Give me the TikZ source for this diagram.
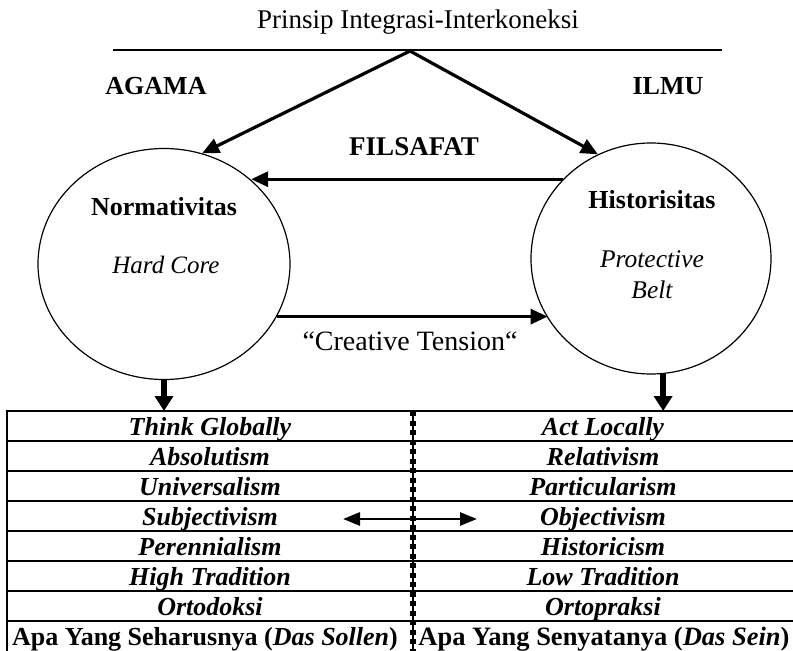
\documentclass[tikz,border=0pt]{standalone}
\usepackage{fontspec}
\setmainfont{Liberation Serif}
\usetikzlibrary{arrows.meta,shapes.geometric}
\begin{document}
\begin{tikzpicture}[x=1pt,y=-1pt,
  every node/.style={font=\fontsize{25}{30}\selectfont, inner sep=0pt, anchor=base},
  circ/.style={draw, ellipse, line width=1.2pt, anchor=center},
  link/.style={line width=3.2pt, -{Triangle[length=17pt,width=15pt]}},
  drop/.style={line width=6pt, -{Triangle[length=15pt,width=18pt]}},
  head/.style={font=\fontsize{26}{30}\selectfont\bfseries},
  cell/.style={font=\fontsize{26}{30}\selectfont\bfseries\itshape},
  last/.style={font=\fontsize{26}{30}\selectfont\bfseries},
  rule/.style={line width=2pt}]
\useasboundingbox (0,0) rectangle (793,651);

% title and top bar
\node[font=\fontsize{27}{30}\selectfont] (title) at (418,28) {Prinsip Integrasi-Interkoneksi};
\coordinate (barL) at (113,50);
\coordinate (barR) at (722,50);
\coordinate (apex) at (410,51);
\draw[line width=2pt] (barL) -- (barR);

% headings
\node[head] (agama) at (156,94) {AGAMA};
\node[head] (ilmu) at (668,94) {ILMU};
\node[font=\fontsize{27}{30}\selectfont\bfseries] (fil) at (414,155) {FILSAFAT};

% the two circles
\node[circ, minimum width=252pt, minimum height=231pt] (norm) at (164,264) {};
\node[circ, minimum width=240pt, minimum height=231pt] (hist) at (651,258.5) {};

\node[head] (normT) at (164,215) {Normativitas};
\node[font=\fontsize{25}{30}\selectfont\itshape] (hc) at (166,273) {Hard Core};
\node[head] (histT) at (652,208) {Historisitas};
\node[font=\fontsize{25.5}{30}\selectfont\itshape] (pb1) at (652,267) {Protective};
\node[font=\fontsize{25.5}{30}\selectfont\itshape] (pb2) at (652,298) {Belt};
\node[font=\fontsize{28}{30}\selectfont] (ct) at (410,350) {“Creative Tension“};

% connectors between the circles
\draw[link] (apex) -- (norm.71);
\draw[link] (apex) -- (hist.117);
\draw[link] (hist.138) -- (hist.138 -| norm.44);
\draw[link] (norm.-25) -- (norm.-25 -| hist.-150);

% table
\coordinate (tabtop) at (0,411);
\foreach \y in {411,441,471,501,531,561,591,621}
  \draw[rule] (7,\y) -- (793,\y);
\draw[rule] (7,410) -- (7,651);
\coordinate (divT) at (413,411);
\coordinate (divB) at (413,651);
\draw[line width=1.2pt] (divT) -- (divB);
\draw[line width=6pt, dash pattern=on 5pt off 4.5pt] (divT) -- (divB);

% arrows into the table
\draw[drop] (norm.south) -- (norm.south |- tabtop);
\draw[drop] (hist.-84) -- (hist.-84 |- tabtop);

% table cells
\foreach \t [count=\i] in {Think Globally,Absolutism,Universalism,Subjectivism,Perennialism,High Tradition,Ortodoksi}
  \node[cell] (l\i) at (210,{411+30*(\i-1)+24}) {\t};
\foreach \t [count=\i] in {Act Locally,Relativism,Particularism,Objectivism,Historicism,Low Tradition,Ortopraksi}
  \node[cell] (r\i) at (603,{411+30*(\i-1)+24}) {\t};
\node[last] (l8) at (205,645) {Apa Yang Seharusnya (\textit{Das Sollen})};
\node[last, font=\fontsize{26.5}{30}\selectfont\bfseries] (r8) at (604,645) {Apa Yang Senyatanya (\textit{Das Sein})};

% two-way arrow across the divider
\coordinate (dl) at (343,519);
\coordinate (dr) at (477,519);
\draw[line width=2.8pt, {Triangle[length=17pt,width=13pt]}-{Triangle[length=17pt,width=13pt]}] (dl) -- (dr);
\end{tikzpicture}
\end{document}
